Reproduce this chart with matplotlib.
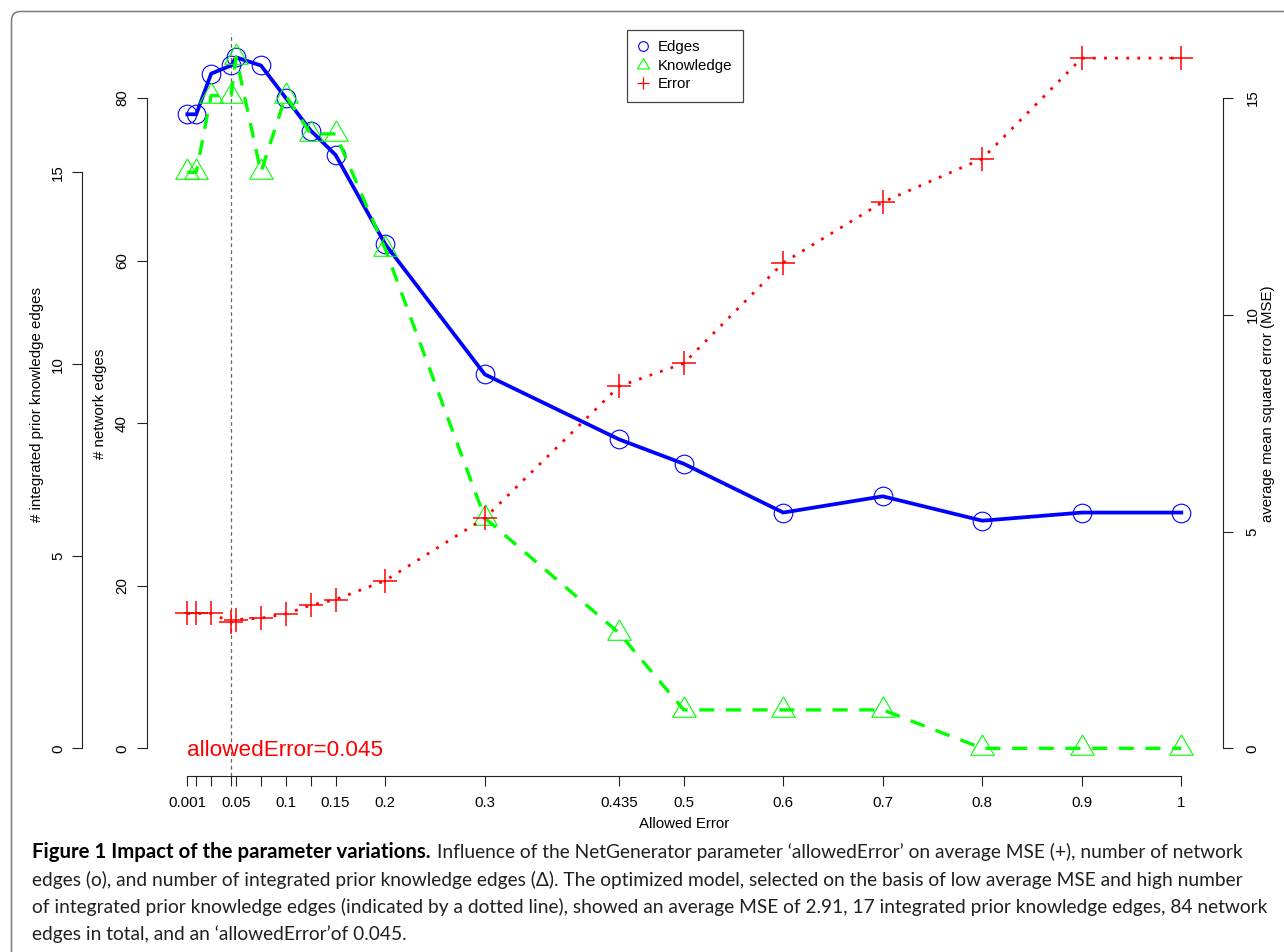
import matplotlib
matplotlib.use("Agg")
import matplotlib.pyplot as plt
from matplotlib.lines import Line2D
from matplotlib.patches import FancyBboxPatch
from matplotlib.transforms import IdentityTransform

W, H, DPI = 1284, 952, 100

# data
allowed_error = [0.001, 0.01, 0.025, 0.045, 0.05, 0.075, 0.1, 0.125, 0.15,
                 0.2, 0.3, 0.435, 0.5, 0.6, 0.7, 0.8, 0.9, 1.0]
edges = [78, 78, 83, 84, 85, 84, 80, 76, 73, 62, 46, 38, 35, 29, 31, 28, 29, 29]
knowledge = [15, 15, 17, 17, 18, 15, 17, 16, 16, 13, 6, 3, 1, 1, 1, 0, 0, 0]
mse = [3.11, 3.11, 3.11, 2.91, 2.97, 3.0, 3.1, 3.3, 3.43, 3.87, 5.31, 8.35,
       8.88, 11.2, 12.6, 13.6, 15.92, 15.92]
labelled_x = [0.001, 0.05, 0.1, 0.15, 0.2, 0.3, 0.435, 0.5, 0.6, 0.7, 0.8, 0.9, 1.0]
edges_ticks = [0, 20, 40, 60, 80]
knowledge_ticks = [0, 5, 10, 15]
mse_ticks = [0, 5, 10, 15]
chosen = 0.045

caption_bold = "Figure 1 Impact of the parameter variations."
caption_lines = [
    "Influence of the NetGenerator parameter \u2018allowedError\u2019 on average MSE (+), number of network",
    "edges (o), and number of integrated prior knowledge edges (\u0394). The optimized model, selected on the basis of low average MSE and high number",
    "of integrated prior knowledge edges (indicated by a dotted line), showed an average MSE of 2.91, 17 integrated prior knowledge edges, 84 network",
    "edges in total, and an \u2018allowedError\u2019of 0.045.",
]

plt.rcParams['font.family'] = ['Liberation Sans', 'DejaVu Sans']

BLUE, GREEN, RED = '#0000FF', '#00FF00', '#FF0000'
AXC = '#222222'
TICK_FS = 10.8


def fx(px):
    return px / W


def fy(py):
    return 1 - py / H


# R-style triangle (pch=2)
tri = [(0, 1.555), (1.347, -0.778), (-1.347, -0.778), (0, 1.555)]

fig = plt.figure(figsize=(W / DPI, H / DPI), dpi=DPI)

# outer rounded frame
frame = FancyBboxPatch((11.5, -60), 1400, H - 11.5 + 60,
                       boxstyle='round,pad=0,rounding_size=9',
                       transform=IdentityTransform(), fc='none',
                       ec='#7a7a7a', lw=1.1)
fig.add_artist(frame)

x0, x1 = 186.3, 1181.3
y0, ytop = 748.3, 98.0
ax = fig.add_axes([fx(x0), fy(y0), (x1 - x0) / W, (y0 - ytop) / H])
ax.patch.set_visible(False)
ax.set_xlim(0, 1)
ax.set_ylim(0, 80)

ax2 = ax.twinx()
ax2.set_ylim(0, (y0 - ytop) / 38.4)
ax3 = ax.twinx()
ax3.set_ylim(0, (y0 - ytop) / 43.4)

for a in (ax, ax2, ax3):
    for s in a.spines.values():
        s.set_visible(False)
        s.set_linewidth(0.8)
        s.set_color(AXC)

# x axis
ax.spines['bottom'].set_visible(True)
ax.spines['bottom'].set_position(('outward', (776 - y0) * 0.72))
ax.spines['bottom'].set_bounds(allowed_error[0], allowed_error[-1])
ax.set_xticks(allowed_error)
ax.set_xticklabels([('%g' % v) if v in labelled_x else '' for v in allowed_error])
ax.tick_params(axis='x', length=7.2, width=0.8, color=AXC, labelsize=TICK_FS, pad=7.5)
ax.set_xlabel('Allowed Error', fontsize=TICK_FS, labelpad=5.0)

# edges axis
ax.spines['left'].set_visible(True)
ax.spines['left'].set_position(('outward', (x0 - 146.7) * 0.72))
ax.spines['left'].set_bounds(0, 80)
ax.set_yticks(edges_ticks)
ax.tick_params(axis='y', length=7.2, width=0.8, color=AXC, labelsize=TICK_FS, pad=5.6)

# knowledge axis
ax2.yaxis.tick_left()
ax2.spines['left'].set_visible(True)
ax2.spines['left'].set_position(('outward', (x0 - 82.3) * 0.72))
ax2.spines['left'].set_bounds(0, 15)
ax2.set_yticks(knowledge_ticks)
ax2.tick_params(axis='y', length=7.2, width=0.8, color=AXC, labelsize=TICK_FS, pad=5.1)

# mse axis
ax3.spines['right'].set_visible(True)
ax3.spines['right'].set_position(('outward', (1222.5 - x1) * 0.72))
ax3.spines['right'].set_bounds(0, 15)
ax3.set_yticks(mse_ticks)
ax3.tick_params(axis='y', length=7.2, width=0.8, color=AXC, labelsize=TICK_FS, pad=9.4)

for a, ha in ((ax, 'right'), (ax2, 'right'), (ax3, 'left')):
    for lab in a.get_yticklabels():
        lab.set_rotation(90)
        lab.set_va('center')
        lab.set_ha(ha)

fig.text(fx(36.7), fy(404), '# integrated prior knowledge edges', rotation=90,
         ha='center', va='center', fontsize=TICK_FS)
fig.text(fx(100), fy(404), '# network edges', rotation=90,
         ha='center', va='center', fontsize=TICK_FS)
fig.text(fx(1268), fy(404), 'average mean squared error (MSE)', rotation=90,
         ha='center', va='center', fontsize=TICK_FS)

# chosen value
ax.axvline(chosen, ymin=(y0 - 776) / (y0 - ytop), ymax=(y0 - 33) / (y0 - ytop),
           color='#666666', lw=0.9, ls=(0, (3, 2.5)), clip_on=False, zorder=1)
ax.text(allowed_error[0], -1.0, 'allowedError=%g' % chosen, color=RED,
        fontsize=16.2, ha='left', va='baseline')

# series
ax.plot(allowed_error, edges, color=BLUE, lw=2.7, marker='o', ms=13.4,
        mfc='none', mec=BLUE, mew=0.8, clip_on=False)
ax2.plot(allowed_error, knowledge, color=GREEN, lw=2.4, ls=(0, (4.5, 3.5)),
         marker=tri, ms=19.5, mfc='none', mec=GREEN, mew=0.8, clip_on=False)
ax3.plot(allowed_error, mse, color=RED, lw=2.0, ls=(0, (1, 3)),
         dash_capstyle='butt', marker='+', ms=17, mec=RED, mew=1.1,
         clip_on=False)

handles = [
    Line2D([], [], ls='none', marker='o', ms=7, mfc='none', mec=BLUE, mew=0.8),
    Line2D([], [], ls='none', marker=tri, ms=10, mfc='none', mec=GREEN, mew=0.8),
    Line2D([], [], ls='none', marker='+', ms=9, mec=RED, mew=0.9),
]
leg = fig.legend(handles, ['Edges', 'Knowledge', 'Error'], loc='upper left',
                 bbox_to_anchor=(fx(627), fy(30)), borderaxespad=0,
                 frameon=True, fancybox=False, edgecolor='#444444',
                 framealpha=1, fontsize=TICK_FS, borderpad=0.7,
                 labelspacing=0.29, handlelength=0.75, handletextpad=0.62)
leg.get_frame().set_linewidth(0.9)

# caption
renderer = fig.canvas.get_renderer()
cap_font = ['Lato', 'DejaVu Sans']
line2 = fig.text(fx(32), fy(886), caption_lines[1], fontsize=14,
                 family=cap_font, color='#231f20', va='baseline')
fs = 14 * (1250 - 32) / line2.get_window_extent(renderer).width
line2.set_fontsize(fs)
bold = fig.text(fx(32), fy(858), caption_bold, fontsize=fs, family=cap_font,
                fontweight='bold', color='black', va='baseline')
bfs = fs * (428 - 32) / bold.get_window_extent(renderer).width
bold.set_fontsize(bfs)
fig.text(fx(437), fy(858), caption_lines[0], fontsize=fs,
         family=cap_font, color='#231f20', va='baseline')
fig.text(fx(32), fy(913), caption_lines[2], fontsize=fs, family=cap_font,
         color='#231f20', va='baseline')
fig.text(fx(32), fy(940), caption_lines[3], fontsize=fs, family=cap_font,
         color='#231f20', va='baseline')

fig.savefig('out.png', dpi=DPI)
